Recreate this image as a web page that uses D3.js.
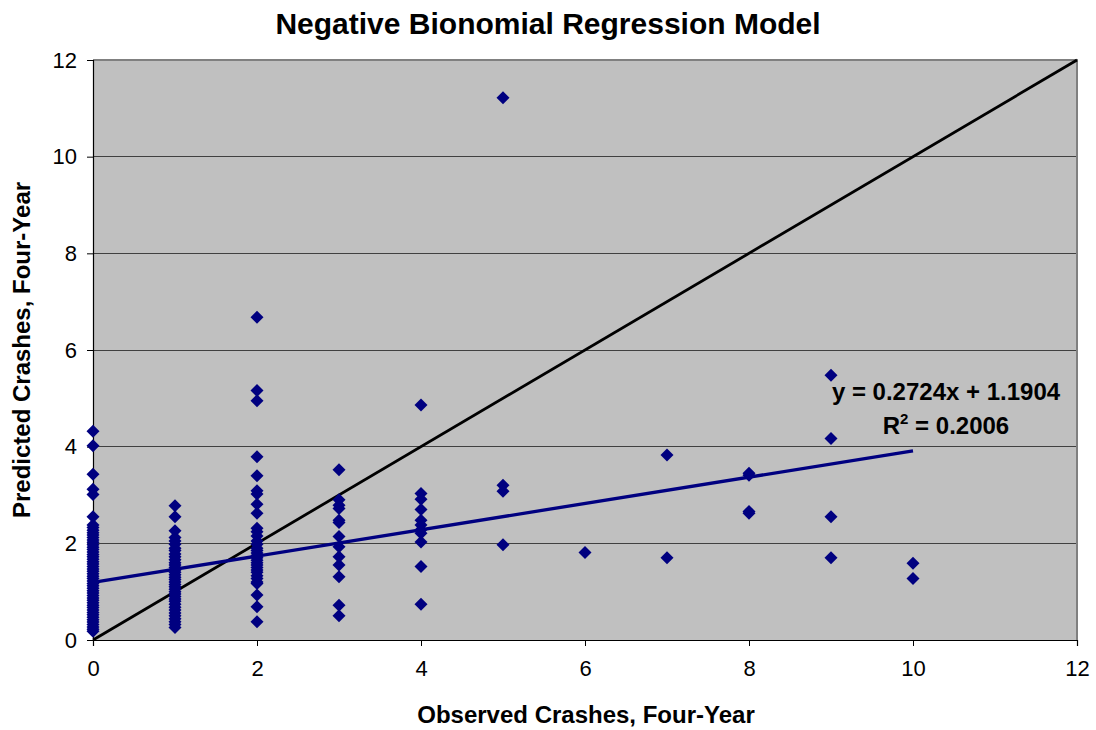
<!DOCTYPE html>
<html>
<head>
<meta charset="utf-8">
<script src="https://cdn.jsdelivr.net/npm/d3@7"></script>
<style>
  html, body { margin: 0; padding: 0; background: #fff; }
  svg { display: block; font-family: "Liberation Sans", Arial, sans-serif; }
</style>
</head>
<body>
<svg id="chart" width="1096" height="730"></svg>
<script>
// ---- Data ----
const observedLevels = [0, 1, 2, 3, 4, 5, 6, 7, 8, 9, 10];

const pred0 = [4.32, 4.02, 3.43, 3.12, 3.01, 2.55, 2.38, 2.33, 2.27, 2.22, 2.17, 2.12, 2.07, 2.02, 1.97,
  1.92, 1.87, 1.82, 1.77, 1.72, 1.67, 1.62, 1.57, 1.52, 1.47, 1.42, 1.37, 1.32, 1.27, 1.22, 1.17,
  1.12, 1.07, 1.02, 0.97, 0.92, 0.87, 0.82, 0.77, 0.72, 0.67, 0.62, 0.57, 0.52, 0.47, 0.42, 0.37,
  0.32, 0.27, 0.22, 0.18];
const pred1 = [2.78, 2.55, 2.26, 2.12, 2.05, 1.98, 1.9, 1.85, 1.78, 1.72, 1.66, 1.6, 1.55, 1.5, 1.45,
  1.4, 1.35, 1.3, 1.25, 1.2, 1.15, 1.1, 1.05, 1.0, 0.95, 0.9, 0.85, 0.8, 0.74, 0.68, 0.62, 0.56,
  0.5, 0.44, 0.38, 0.32, 0.26];
const pred2 = [6.68, 5.16, 4.95, 3.79, 3.40, 3.09, 3.02, 2.81, 2.62, 2.31, 2.24, 2.15, 2.05, 1.98,
  1.9, 1.85, 1.8, 1.75, 1.7, 1.65, 1.6, 1.55, 1.5, 1.45, 1.4, 1.33, 1.27, 1.2, 1.17, 0.93, 0.69, 0.38];
const pred3 = [3.52, 2.9, 2.79, 2.72, 2.48, 2.43, 2.14, 1.93, 1.72, 1.55, 1.31, 0.72, 0.5];
const pred4 = [4.86, 3.03, 2.91, 2.7, 2.48, 2.38, 2.28, 2.21, 2.03, 1.52, 0.74];
const pred5 = [11.22, 3.2, 3.08, 1.97];
const pred6 = [1.81];
const pred7 = [3.83, 1.7];
const pred8 = [3.45, 3.41, 2.66, 2.62];
const pred9 = [5.48, 4.17, 2.55, 1.7];
const pred10 = [1.59, 1.27];
const predictedByLevel = [pred0, pred1, pred2, pred3, pred4, pred5, pred6, pred7, pred8, pred9, pred10];

const tickValues = [0, 2, 4, 6, 8, 10, 12];
const trendSlope = 0.2724, trendIntercept = 1.1904;
const trendRange = [0, 10];
const identityRange = [0, 12];

const titleText = "Negative Bionomial Regression Model";
const xTitleText = "Observed Crashes, Four-Year";
const yTitleText = "Predicted Crashes, Four-Year";

// ---- Layout ----
const svg = d3.select("#chart");
const plot = { left: 93, top: 60, right: 1077, bottom: 640 };
const x = d3.scaleLinear().domain([0, 12]).range([plot.left, plot.right]);
const y = d3.scaleLinear().domain([0, 12]).range([plot.bottom, plot.top]);

// Plot background
svg.append("rect")
  .attr("x", plot.left).attr("y", plot.top)
  .attr("width", plot.right - plot.left).attr("height", plot.bottom - plot.top)
  .attr("fill", "#C0C0C0");

// Gridlines
svg.append("g").selectAll("line")
  .data(tickValues.filter(d => d > 0 && d < 12))
  .join("line")
  .attr("x1", plot.left).attr("x2", plot.right)
  .attr("y1", d => y(d)).attr("y2", d => y(d))
  .attr("stroke", "#404040").attr("stroke-width", 1)
  .attr("shape-rendering", "crispEdges");

// Plot border (top/right gray)
svg.append("path")
  .attr("d", `M${plot.left},${plot.top}H${plot.right}V${plot.bottom}`)
  .attr("fill", "none").attr("stroke", "#808080").attr("stroke-width", 2)
  .attr("shape-rendering", "crispEdges");

// Axes
const xAxis = d3.axisBottom(x).tickValues(tickValues).tickSize(6).tickPadding(13).tickFormat(d3.format("d"));
const yAxis = d3.axisLeft(y).tickValues(tickValues).tickSize(6).tickPadding(10).tickFormat(d3.format("d"));

const gx = svg.append("g").attr("transform", `translate(0,${plot.bottom})`).call(xAxis);
const gy = svg.append("g").attr("transform", `translate(${plot.left},0)`).call(yAxis);
[gx, gy].forEach(g => {
  g.select(".domain").attr("stroke", "#000").attr("stroke-width", 1.2);
  g.selectAll(".tick line").attr("stroke", "#000");
  g.selectAll(".tick text").attr("fill", "#000").attr("font-size", 22)
    .attr("font-family", '"Liberation Sans", Arial, sans-serif');
});
gx.selectAll(".tick text").attr("dy", "0.75em");

// Identity line y = x
svg.append("line")
  .attr("x1", x(identityRange[0])).attr("y1", y(identityRange[0]))
  .attr("x2", x(identityRange[1])).attr("y2", y(identityRange[1]))
  .attr("stroke", "#000").attr("stroke-width", 2.8);

// Points
const points = [];
predictedByLevel.forEach((arr, i) => arr.forEach(v => points.push({ obs: observedLevels[i], pred: v })));
const r = 6.5;
svg.append("g").selectAll("path")
  .data(points)
  .join("path")
  .attr("transform", d => `translate(${x(d.obs)},${y(d.pred)})`)
  .attr("d", `M0,${-r}L${r},0L0,${r}L${-r},0Z`)
  .attr("fill", "#000080");

// Trend line
svg.append("line")
  .attr("x1", x(trendRange[0])).attr("y1", y(trendIntercept + trendSlope * trendRange[0]))
  .attr("x2", x(trendRange[1])).attr("y2", y(trendIntercept + trendSlope * trendRange[1]))
  .attr("stroke", "#000080").attr("stroke-width", 3.3);

// Equation labels
const eq = svg.append("g").attr("font-weight", "bold").attr("font-size", 24).attr("fill", "#000");
eq.append("text").attr("x", 946).attr("y", 400).attr("text-anchor", "middle").text("y = 0.2724x + 1.1904");
const r2 = eq.append("text").attr("x", 946).attr("y", 434).attr("text-anchor", "middle");
r2.append("tspan").text("R");
r2.append("tspan").attr("dy", -10).attr("font-size", 15).text("2");
r2.append("tspan").attr("dy", 10).text(" = 0.2006");

// Titles
svg.append("text").attr("x", 548).attr("y", 34).attr("text-anchor", "middle")
  .attr("font-weight", "bold").attr("font-size", 30).text(titleText);
svg.append("text").attr("x", 586).attr("y", 723).attr("text-anchor", "middle")
  .attr("font-weight", "bold").attr("font-size", 24).text(xTitleText);
svg.append("text").attr("transform", `translate(30,350) rotate(-90)`).attr("text-anchor", "middle")
  .attr("font-weight", "bold").attr("font-size", 24).text(yTitleText);
</script>
</body>
</html>
